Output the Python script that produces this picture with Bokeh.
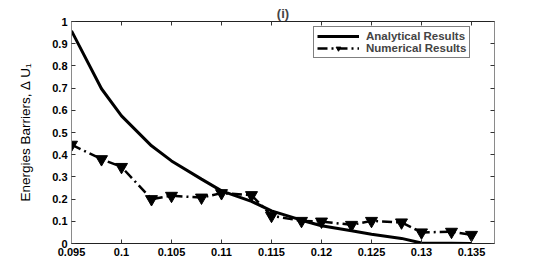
from bokeh.plotting import figure
from bokeh.models import LinearAxis, FixedTicker, Range1d, Label, Legend
from bokeh.embed import file_html
from bokeh.resources import INLINE

# ---- data ----
alpha = [0.095, 0.098, 0.100, 0.103, 0.105, 0.108, 0.110, 0.113, 0.115,
         0.118, 0.120, 0.123, 0.125, 0.128, 0.130, 0.133, 0.135]
analytical = [0.958, 0.697, 0.575, 0.440, 0.372, 0.290, 0.237, 0.190, 0.147,
              0.105, 0.080, 0.057, 0.042, 0.023, 0.002, 0.001, 0.000]
numerical = [0.445, 0.380, 0.345, 0.200, 0.215, 0.207, 0.227, 0.218, 0.125,
             0.102, 0.099, 0.084, 0.102, 0.095, 0.050, 0.053, 0.039]

x_ticks = [0.095, 0.1, 0.105, 0.11, 0.115, 0.12, 0.125, 0.13, 0.135]
x_tick_labels = ["0.095", "0.1", "0.105", "0.11", "0.115", "0.12", "0.125", "0.13", "0.135"]
y_ticks = [0, 0.1, 0.2, 0.3, 0.4, 0.5, 0.6, 0.7, 0.8, 0.9, 1]
y_tick_labels = ["0", "0.1", "0.2", "0.3", "0.4", "0.5", "0.6", "0.7", "0.8", "0.9", "1"]

title_text = "(i)"
x_label = "\u03b1"
y_label = "Energies Barriers, \u2206 U\u2081"
series_names = ["Analytical Results", "Numerical Results"]

FONT = "Liberation Sans"

p = figure(width=545, height=273, output_backend="svg", toolbar_location=None,
           x_range=Range1d(0.095, 0.1373), y_range=Range1d(0, 1),
           x_axis_type=None, y_axis_type=None,
           min_border_left=71, min_border_right=51, min_border_top=21, min_border_bottom=30)
p.background_fill_color = "white"
p.border_fill_color = "white"
p.outline_line_color = None
p.xgrid.visible = False
p.ygrid.visible = False

xl = dict(zip(x_ticks, x_tick_labels))
yl = dict(zip(y_ticks, y_tick_labels))
xl_blank = {t: "" for t in x_ticks}
yl_blank = {t: "" for t in y_ticks}

def style_axis(ax, ticks, labels, line_color):
    ax.ticker = FixedTicker(ticks=ticks)
    ax.major_label_overrides = labels
    ax.major_tick_in = 4
    ax.major_tick_out = 0
    ax.minor_tick_line_color = None
    ax.axis_line_color = line_color
    ax.axis_line_width = 1
    ax.major_tick_line_color = "#333333"
    ax.major_label_text_font = FONT
    ax.major_label_text_font_style = "bold"
    ax.major_label_text_color = "black"
    ax.major_label_text_font_size = "11px"

bottom = LinearAxis()
style_axis(bottom, x_ticks, xl, "#222222")
bottom.major_label_standoff = 4
p.add_layout(bottom, "below")

top = LinearAxis()
style_axis(top, x_ticks, xl_blank, "#222222")
top.major_label_standoff = 0
p.add_layout(top, "above")

left = LinearAxis()
style_axis(left, y_ticks, yl, "#8a8a8a")
left.major_label_standoff = 4
left.axis_label = y_label
left.axis_label_text_font = FONT
left.axis_label_text_font_style = "normal"
left.axis_label_text_font_size = "13.5px"
left.axis_label_text_color = "black"
left.axis_label_standoff = 16
p.add_layout(left, "left")

right = LinearAxis()
style_axis(right, y_ticks, yl_blank, "#8a8a8a")
right.major_label_standoff = 0
p.add_layout(right, "right")

p.title.text = title_text
p.title.align = "center"
p.title.text_font = FONT
p.title.text_font_style = "bold"
p.title.text_font_size = "13px"
p.title.standoff = 2

r1 = p.line(alpha, analytical, line_color="black", line_width=3)
r2 = p.line(alpha, numerical, line_color="black", line_width=2.5, line_dash="10 4 2 4")
r3 = p.scatter(alpha, numerical, marker="inverted_triangle", size=12,
               fill_color="black", line_color="black")

legend = Legend(items=[(series_names[0], [r1]), (series_names[1], [r2, r3])],
                location=(242, 185))
legend.margin = 0
legend.padding = 3
legend.spacing = 0
legend.glyph_width = 42
legend.glyph_height = 12
legend.label_height = 12
legend.label_standoff = 7
legend.label_text_font = FONT
legend.label_text_font_style = "bold"
legend.label_text_font_size = "11.5px"
legend.label_text_line_height = 1.0
legend.border_line_color = "black"
legend.border_line_width = 1
legend.background_fill_alpha = 1
p.add_layout(legend, "center")

xlab = Label(x=(0.095 + 0.1373) / 2, y=-0.096, text=x_label, text_align="center",
             text_baseline="middle", text_font="Liberation Serif",
             text_font_size="14px", text_color="black")
p.add_layout(xlab)

open("out.html", "w").write(file_html(p, INLINE))
